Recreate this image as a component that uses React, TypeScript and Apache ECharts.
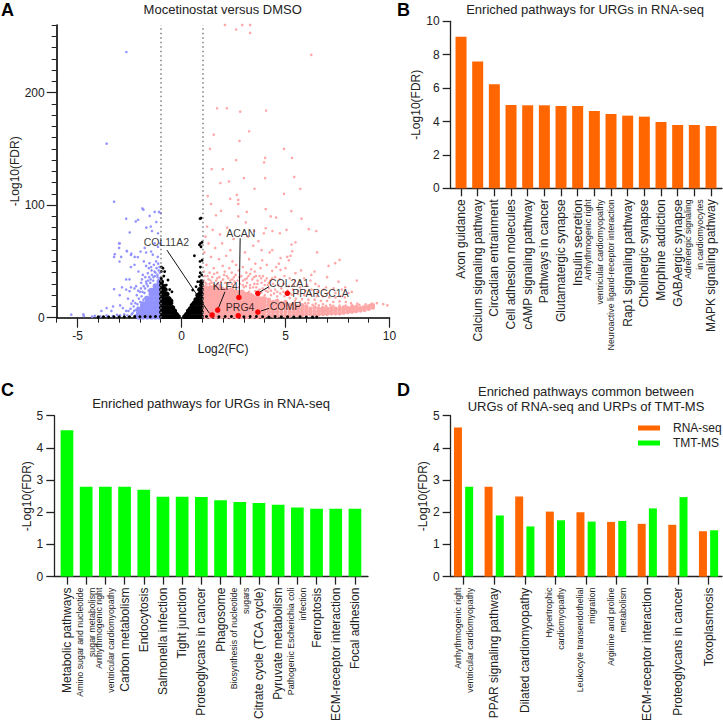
import React, { useEffect, useRef } from "react";
import * as echarts from "echarts";

const FONT = '"Liberation Sans", Arial, sans-serif';
const INK = "#222222";
const ORANGE = "#FF6600";
const GREEN = "#00FF00";
const PINK = "#FFA6A6";
const BLUE = "#9393FF";
const RED = "#FF0000";

// ---------- Panel A: values, [log2FC, -log10FDR]
const pinkSparse: number[][] = [
  [2.09,260],[2.63,256],[2.92,260],[3.3,260],[3.3,253],[6.24,233.5],[1.71,186],[2.18,186],[2.82,183],[4.07,184],
  [1.55,162.6],[3.25,165.6],[2.79,157],[1.37,150],[4.93,150],[2.63,140],[4.02,142],[5.31,142],[3.97,138],[1.45,132],
  [1.99,132],[3,124],[5.42,125],[4.02,124],[2.28,121],[1.87,119.6],[3.51,114.5],[5.71,114.5],[2.66,109],[4.93,110],
  [1.26,108],[2.34,105.6],[2.73,104.7],[2.73,101],[1.42,101],[1.9,95],[3.14,94],[4.05,96.4],[5.28,94.7],[1.66,91],
  [2.73,90],[4.29,90],[4.55,89],[3.09,84.6],[5.77,88],[1.23,81],[6.12,78.6],[6.48,77],[5.05,78],[4.05,79.5],
  [4.37,77],[4.73,75],[3.96,75],[5.48,67],[5.29,65],[6.52,58],[5.32,59],[5.24,55],[4.36,60],[4.24,58],
  [3.85,60],[4.76,53],[4.68,48],[5.08,54],[5.16,51],[7.6,51.4],[7.07,46],[7.39,48.4],[6.4,41],[6.24,38],
  [8.43,33],[7,36],[5.48,39.5],[4.76,42.4],[4.36,41.6],[3.88,51],[3.8,44],[6.44,30],[7.55,32],[7.87,27],
  [8.19,23],[8.03,22],[7.71,25],[7.31,26],[6.83,25],[6.04,29],[5.7,32],[9.39,13],[9.07,11.5],[8.75,10],
  [8.9,9.5],[8.5,8.5],[9.7,12],[9.9,11],
  [1.15,72],[1.5,78],[1.85,74],[2.2,80],[2.5,70],[3.2,72],[3.5,77],[1.3,66],[1.62,62],[1.95,66],
  [2.35,60],[3.45,64],[3.7,68],[3.05,58],[1.1,58],[1.42,54],[1.8,52],[2.15,55],[2.45,50],[3.25,52],
  [3.55,48],[3.35,43],[1.2,47],[1.55,44],[1.98,46],[2.3,44],[2.62,47],[2.95,45],[1.08,41],[1.35,40],
  [1.72,40],[2.08,41],[2.42,40],[2.75,42],[3.12,40],[3.52,41],[4.1,47],[4.55,45],[5,44],[5.75,42],
];
const pinkMid: number[][] = [
  [1.12,37],[1.3,34],[1.48,36],[1.66,33],[1.82,36],[2,34],[2.18,37],[2.35,33],[2.52,36],[2.7,33],
  [2.88,37],[3.06,34],[3.22,37],[3.4,34],[3.58,37],[3.75,37],[3.92,37],[4.1,35],[4.28,33],[4.5,36],
  [4.72,34],[4.95,37],[5.2,35],[5.45,33],[5.9,35],[6.2,33],[1.2,30],[1.45,31],[1.75,30],[2.1,31],
  [2.42,30],[2.8,30],[3.15,31],[3.5,30],[3.85,31],[4.15,29],[4.4,30],[4.65,29],[4.9,30],[5.15,28],
  [5.4,29],[5.7,27],[6.6,28],[6.95,27],[3,27],[3.3,26.5],[3.6,27],[3.9,26],[4.2,26],[4.5,25],
  [4.8,26],[5.1,24],[5.35,25],[5.6,24],[5.95,24],[6.25,25],[6.55,23],[7.05,22],[7.4,22],[7.65,19],
  [7.85,18],[3.25,23],[3.55,23.5],[3.85,22.5],[4.15,23],[4.45,21.5],[4.75,21.5],[5.3,20.5],[5.6,21],[5.9,20],
  [6.2,20.5],[6.5,19],[6.8,19],[7.1,18],[7.4,18],[5.5,17],[5.8,16.5],[6.1,16],[6.4,16],[6.7,15],
  [7,15],[7.3,14],[7.6,14.5],[7.9,14],[8.15,13],[8.45,12.5],[6.1,13],[6.45,12.5],[6.8,12],[7.15,11.5],
  [1.08,33],[1.25,37],[1.4,33],[1.57,39],[1.72,35],[1.9,32],[2.05,38],[2.25,35],[2.44,34],[2.6,38],
  [2.78,36],[2.96,33],[3.14,35],[3.3,39],[3.48,36],[3.66,33],[3.83,35],[4.02,33],[4.2,31],[4.36,35],
  [1.15,31],[1.35,30],[1.55,29],[1.85,29],[2.25,30],[2.55,32],[2.95,29],[3.3,29],[3.65,30],[4,29],
  [2.5,28],[2.75,27],[3.1,28],[3.45,27],[3.75,25],[4.05,24],[4.3,24],[4.6,23],[4.9,23],[5.2,22],
  [3.35,21],[3.7,20.5],[4,20],[4.3,20],[4.6,19],[4.95,19],[5.2,17.5],[5.45,15],[5.7,14],[5.95,13],
  [6.3,11.5],[6.6,11],[6.95,10.5],[7.3,10.5],[7.6,10.8],[7.9,10.8],[8.2,11.2],[8.55,11.5],[8.85,11.8],[9.15,12.5],
];
const pinkCoreColumns: [number, number[]][] = [
  [1.15,[2,6,10,14,18,22,26]],[1.4,[2,6,10,14,18,22,26]],[1.65,[2,6,10,14,18,22,26]],[1.9,[2,6,10,14,18,22,25]],
  [2.15,[2,6,10,14,18,22,24]],[2.4,[2,6,10,14,18,22,24]],[2.65,[2,6,10,14,18,22]],[2.9,[2,6,10,14,18,22]],
  [3.15,[2,6,10,14,18,20]],[3.4,[2,6,10,14,18]],[3.65,[2,6,10,14,17]],[3.9,[2,6,10,14,16]],
];
const pinkWedgeColumns: [number, number[]][] = [
  [4,[2,5,8,11,14,17]],[4.2,[2,5,8,11,14,16]],[4.4,[2,5,8,11,14]],[4.6,[2,5,8,11,15]],[4.8,[2,5,8,11,13]],[5,[2,5,8,11,14]],
  [5.2,[2,5,8,11]],[5.4,[2.5,5,8,12]],[5.6,[2.5,5,8,10]],[5.8,[2.5,5,8,11]],[6,[3,5.5,8,10]],[6.2,[3,5.5,8]],[6.4,[3,5.5,9]],
  [6.6,[3,5.5,8]],[6.8,[3.5,6,8.5]],[7,[3.5,6,8]],[7.2,[4,6,8.5]],[7.4,[4,6.5,8]],[7.6,[4,6.5,8.5]],[7.8,[4.5,7,9]],[8,[5,7,8.5]],
  [8.2,[5.5,7.5,9.5]],[8.4,[6,8,9.5]],[8.6,[6.5,8.5]],[8.8,[7,9]],[9,[8,10]],[9.2,[9,11]],
];
const blueSparse: number[][] = [
  [-2.65,236],[-3.6,154.6],[-3.24,103],[-1.88,97],[-1.83,96],[-2.66,88],[-2.09,87],[-2.2,85.5],[-2.49,75.7],[-1.29,94],
  [-1.08,94],[-1,93],[-1.53,90.5],[-1.21,85],[-1.69,80],[-1.48,81],[-1.42,77],[-1.13,75],[-3,66],[-3,62],
  [-2.62,59],[-2.41,57],[-3.24,54],[-2.25,54],[-1.77,62],[-1.29,66],[-1.13,63],[-1.02,66],[-2.97,66],[-3.21,56.4],
  [-2.9,54],[-2.98,49.9],[-2.63,59.4],[-2.43,55.8],[-1.97,58.8],[-1.7,57.9],[-1.46,58.8],[-1.14,54],[-2.1,53.7],[-1.81,50],
  [-1.54,48.4],[-1.38,56],[-2.43,45],[-2.26,47],[-2.07,41],[-1.46,45],[-1.22,50],[-1.06,45],[-1.86,38],[-2.66,34],
  [-2.5,34],[-1.62,39.5],[-1.3,41],[-3.24,25.3],[-2.86,27],[-2.43,27],[-2.66,25],[-2.5,23.5],[-2.97,20],[-2.26,26],
  [-2.18,28],[-1.94,31],[-2,23],[-1.7,32],[-2.57,17],[-2.33,15],[-2.41,12.5],[-3.29,10],[-2.95,11],[-3.6,8.6],
  [-3.85,6],[-2.82,8.6],[-2.66,6],[-3.37,6],[-5.3,2.7],[-4.7,1.6],[-4.72,3],[-4.17,1.6],[-3.6,2],[-2.95,2],
  [-2.4,3],[-1.12,48],[-1.2,44],[-1.33,47],[-1.1,42],[-1.44,42],[-1.57,44],[-1.7,46],[-1.16,38],[-1.28,37],
  [-1.42,38],[-1.55,36],[-1.74,36],[-1.9,34],[-1.05,35],[-1.36,33],[-1.5,31],[-1.62,28],[-1.82,28],[-1.95,26],
  [-2.08,24],[-2.15,20],[-1.78,22],[-1.92,19],[-2.05,17],[-2.22,13],[-2.12,12],[-2.3,10],[-2.2,7],[-2.45,8],
  [-2.55,6],[-2.35,4],[-2.75,3],[-3.1,2.5],[-3.3,1.5],[-3.9,1.2],[-4.3,1],[-3.5,1],[-2.6,2],[-2.2,2],
  [-1.04,40],[-1.15,36],[-1.25,40],[-1.35,36],[-1.48,34],[-1.6,33],[-1.68,30],[-1.75,26],[-1.88,23],[-1.58,24],
  [-1.72,18],[-1.83,16],[-1.98,14],[-1.94,10],[-2.1,9],[-2.28,6],
];
const blueCoreColumns: [number, number[]][] = [
  [-1.06,[1,5,9,13,17,21,25,29,32]],[-1.25,[1,5,9,13,17,21,25,28]],[-1.45,[1,5,9,13,17,21,24]],[-1.65,[1,5,9,13,17]],
  [-1.85,[1,4,8,12]],[-2.05,[1,4,7]],
];
const blackSparse: number[][] = [
  [0.89,88],[0.94,88.5],[0.86,64.7],[0.91,66],[0.99,67],[0.94,63],[0.62,55],[0.89,50],[0.99,51],[0.91,45],
  [-0.97,45],[-0.89,44],[-0.81,41],[-0.97,41],[-0.73,29],[-0.57,25],[-0.46,23],[0.78,32],[0.94,32],[0.86,36.5],
  [0.7,27.6],[0.54,24.6],[-0.65,33.5],[-0.97,35],[-0.85,37],[0.97,38],[0.9,40],
];
const blackCoreColumns: [number, number[]][] = [
  [-0.96,[1,5,9,13,17,21,25,29,32]],[-0.87,[1,5,9,13,17,21,25,28]],[-0.78,[1,5,9,13,17,21,25]],[-0.69,[1,5,9,13,17,21]],
  [-0.6,[1,5,9,13,17]],[-0.51,[1,5,9,13,15]],[-0.42,[1,5,9]],[-0.33,[1,4,6]],[-0.24,[1,3]],[-0.15,[1]],
  [0.15,[1]],[0.24,[1,3]],[0.33,[1,4,6]],[0.42,[1,5,8]],[0.51,[1,5,9,11]],[0.6,[1,5,9,13]],[0.69,[1,5,9,13,16]],
  [0.78,[1,5,9,13,17,20]],[0.87,[1,5,9,13,17,21,25]],[0.96,[1,5,9,13,17,21,25,29,32]],
];
const blackBaseline: number[][] = [
  [-4,0.7],[-3.75,0.8],[-3.5,0.6],[-3.25,0.9],[-3,0.7],[-2.75,0.9],[-2.5,0.8],[-2.25,1],[-2,0.9],[-1.75,1.1],
  [-1.5,0.9],[-1.25,1],[1.2,1],[1.5,1.2],[1.8,0.9],[2.1,1.1],[2.4,1],[2.7,1.2],[3,0.9],[3.3,1],
  [3.6,1.1],[3.9,0.8],[4.2,0.6],[4.5,1],[4.8,0.7],[5.1,0.9],[5.4,0.6],[5.7,0.8],[6,0.6],[6.3,0.5],[6.5,0.6],
];
const geneNames = ["COL11A2", "KLF4", "ACAN", "COL2A1", "PPARGC1A", "PRG4", "COMP"];
const geneFC = [1.47, 1.74, 2.76, 3.67, 5.09, 2.73, 3.67];
const geneFDR = [2.4, 6.8, 18, 21.7, 21.7, 1.8, 5];
const geneLabelFC = [-0.73, 2.1, 2.85, 5.17, 6.68, 2.82, 5.0];
const geneLabelFDR = [66.8, 28.5, 75, 31, 21.7, 9.2, 10.4];
const leaders: number[][][] = [
  [[-0.7, 60], [1.34, 3.9]],
  [[2.09, 23], [1.77, 8.3]],
  [[2.82, 70.6], [2.78, 20]],
  [[4.21, 27.6], [3.78, 23]],
  [[4.21, 8.3], [3.81, 5.9]],
];
const xMajor = [-5, 0, 5, 10];
const xMinor = [-6,-5,-4,-3,-2,-1,0,1,2,3,4,5,6,7,8,9,10];
const yMajor = [0, 100, 200];
const yMinor = [0,10,20,30,40,50,60,70,80,90,100,110,120,130,140,150,160,170,180,190,200,210,220,230,240,250,260];

// ---------- Panel B
const catB = [
  "Axon guidance","Calcium signaling pathway","Circadian entrainment","Cell adhesion molecules","cAMP signaling pathway",
  "Pathways in cancer","Glutamatergic synapse","Insulin secretion","Arrhythmogenic right\nventricular cardiomyopathy",
  "~Neuroactive ligand-receptor interaction","Rap1 signaling pathway","Cholinergic synapse","Morphine addiction",
  "GABAergic synapse","Adrenergic signaling\nin cardiomyocytes","MAPK signaling pathway",
];
const valB = [9.08,7.6,6.23,4.99,4.97,4.97,4.93,4.93,4.63,4.45,4.35,4.29,3.97,3.79,3.79,3.73];

// ---------- Panel C
const catC = [
  "Metabolic pathways","Amino sugar and nucleotide\nsugar metabolism","Arrhythmogenic right\nventricular cardiomyopathy",
  "Carbon metabolism","Endocytosis","Salmonella infection","Tight junction","Proteoglycans in cancer","Phagosome",
  "Biosynthesis of nucleotide\nsugars","Citrate cycle (TCA cycle)","Pyruvate metabolism",
  "Pathogenic Escherichia coli\ninfection","Ferroptosis","ECM-receptor interaction","Focal adhesion",
];
const valC = [4.55,2.79,2.79,2.79,2.7,2.48,2.48,2.47,2.37,2.32,2.29,2.23,2.15,2.11,2.11,2.11];

// ---------- Panel D
const catD = [
  "Arrhythmogenic right\nventricular cardiomyopathy","PPAR signaling pathway","Dilated cardiomyopathy",
  "Hypertrophic\ncardiomyopathy","Leukocyte transendothelial\nmigration","Arginine and proline\nmetabolism",
  "ECM-receptor interaction","Proteoglycans in cancer","Toxoplasmosis",
];
const rnaD = [4.63,2.79,2.49,2.02,2.0,1.7,1.64,1.61,1.41];
const tmtD = [2.79,1.9,1.56,1.75,1.71,1.73,2.12,2.47,1.44];

const expand = (cols: [number, number[]][]) => cols.flatMap(([x, ys]) => ys.map((y) => [x, y]));
const indices = (a: unknown[]) => a.map((_, i) => i);

function catFormatter(cats: string[]) {
  return (v: number) => {
    const c = cats[Math.round(v)];
    if (c === undefined) return "";
    if (c.startsWith("~")) return `{s|${c.slice(1)}}`;
    if (c.includes("\n")) return c.split("\n").map((l) => `{s|${l}}`).join("\n");
    return `{b|${c}}`;
  };
}
const lineStyle = { color: INK, width: 1.3 };

function barX(grid: number, cats: string[], min: number, max: number) {
  const ticks = indices(cats);
  return {
    type: "value", gridIndex: grid, min, max, splitLine: { show: false },
    axisLine: { show: true, onZero: false, lineStyle },
    axisTick: { show: true, length: 8, lineStyle, customValues: ticks },
    axisLabel: {
      show: true, rotate: 90, margin: 11, customValues: ticks, formatter: catFormatter(cats),
      hideOverlap: false, showMinLabel: true, showMaxLabel: true, color: INK, fontFamily: FONT,
      rich: {
        b: { fontSize: 12, fontFamily: FONT, color: INK },
        s: { fontSize: 8.8, lineHeight: 12, fontFamily: FONT, color: INK },
      },
    },
  };
}
function barY(grid: number, max: number, interval: number, nameGap: number) {
  return {
    type: "value", gridIndex: grid, min: 0, max, interval, splitLine: { show: false },
    name: "-Log10(FDR)", nameLocation: "middle", nameGap,
    nameTextStyle: { fontSize: 12, color: INK, fontFamily: FONT },
    axisLine: { show: true, onZero: false, lineStyle },
    axisTick: { show: true, length: 8, lineStyle },
    axisLabel: { fontSize: 12, color: INK, margin: 11, fontFamily: FONT },
  };
}
function titleItem(text: string, cx: number, top: number) {
  return { text, left: cx, top, padding: 0, textAlign: "center", textStyle: { fontSize: 13, fontWeight: "normal", color: INK, fontFamily: FONT, lineHeight: 15 } };
}
function panelLetter(text: string, left: number, top: number) {
  return { text, left, top, padding: 0, textStyle: { fontSize: 18, fontWeight: "bold", color: "#000", fontFamily: FONT } };
}

export default function App() {
  const ref = useRef<HTMLDivElement>(null);
  useEffect(() => {
    const chart = echarts.init(ref.current!, undefined, { renderer: "svg" });
    const scatter = (data: number[][], color: string, size: number, extra: object = {}) => ({
      type: "scatter", xAxisIndex: 0, yAxisIndex: 0, data, symbolSize: size, silent: true,
      itemStyle: { color, opacity: 1 }, ...extra,
    });
    chart.setOption({
      animation: false,
      textStyle: { fontFamily: FONT },
      title: [
        panelLetter("A", 1, 1), panelLetter("B", 397, 1), panelLetter("C", 1, 381), panelLetter("D", 397, 381),
        titleItem("Mocetinostat versus DMSO", 222.7, 2),
        titleItem("Enriched pathways for URGs in RNA-seq", 585, 2),
        titleItem("Enriched pathways for URGs in RNA-seq", 211, 396),
        titleItem("Enriched pathways common between\nURGs of RNA-seq and URPs of TMT-MS", 586, 384),
      ],
      legend: {
        data: ["RNA-seq", "TMT-MS"], orient: "vertical", left: 638, top: 422, padding: 0, itemWidth: 22, itemHeight: 5,
        itemGap: 3, icon: "rect", textStyle: { fontSize: 12, color: INK, fontFamily: FONT, padding: [0, 0, 0, 8] },
      },
      grid: [
        { left: 56.7, top: 25, width: 332.8, height: 292.7 },
        { left: 450.7, top: 21.3, width: 271.3, height: 167 },
        { left: 54.3, top: 415.7, width: 313.7, height: 166.6 },
        { left: 450.7, top: 415.7, width: 271.3, height: 167 },
      ],
      xAxis: [
        {
          type: "value", gridIndex: 0, min: -6, max: 10, splitLine: { show: false },
          name: "Log2(FC)", nameLocation: "middle", nameGap: 20,
          nameTextStyle: { fontSize: 12, color: INK, fontFamily: FONT },
          axisLine: { show: true, onZero: false, lineStyle: { color: "#000", width: 1.6 } },
          axisTick: { show: true, length: 10, lineStyle: { color: INK, width: 1.2 }, customValues: xMajor },
          axisLabel: { fontSize: 12, color: INK, margin: 12, customValues: xMajor, fontFamily: FONT },
        },
        barX(1, catB, -0.62, 15.66),
        barX(2, catC, -0.66, 15.68),
        barX(3, catD, -0.42, 8.44),
        {
          type: "value", gridIndex: 0, min: -6, max: 10, position: "bottom", splitLine: { show: false },
          axisLine: { show: false, onZero: false }, axisLabel: { show: false },
          axisTick: { show: true, length: 5, lineStyle: { color: INK, width: 1 }, customValues: xMinor },
        },
      ],
      yAxis: [
        {
          type: "value", gridIndex: 0, min: 0, max: 260, splitLine: { show: false },
          name: "-Log10(FDR)", nameLocation: "middle", nameGap: 33,
          nameTextStyle: { fontSize: 12, color: INK, fontFamily: FONT },
          axisLine: { show: true, onZero: false, lineStyle: { color: "#000", width: 1.6 } },
          axisTick: { show: true, length: 10, lineStyle: { color: INK, width: 1.2 }, customValues: yMajor },
          axisLabel: { fontSize: 12, color: INK, margin: 12, customValues: yMajor, fontFamily: FONT },
        },
        barY(1, 10, 2, 21),
        barY(2, 5, 1, 18.5),
        barY(3, 5, 1, 21),
        {
          type: "value", gridIndex: 0, min: 0, max: 260, position: "left", splitLine: { show: false },
          axisLine: { show: false, onZero: false }, axisLabel: { show: false },
          axisTick: { show: true, length: 5, lineStyle: { color: INK, width: 1 }, customValues: yMinor },
        },
      ],
      series: [
        scatter(expand(pinkCoreColumns), PINK, 7),
        scatter(expand(pinkWedgeColumns), PINK, 4.5),
        scatter(pinkMid, PINK, 2.6),
        scatter(pinkSparse, PINK, 2.6),
        scatter(expand(blueCoreColumns), BLUE, 6),
        scatter(blueSparse, BLUE, 2.6),
        scatter(expand(blackCoreColumns), "#000", 5),
        scatter(blackSparse, "#000", 2.8),
        scatter(blackBaseline, "#000", 3, {
          markLine: {
            silent: true, symbol: "none", label: { show: false }, animation: false,
            lineStyle: { color: "#7f7f7f", type: [1.5, 3], width: 1.5 },
            data: [{ xAxis: -1 }, { xAxis: 1 }],
          },
        }),
        scatter(geneFC.map((x, i) => [x, geneFDR[i]]), RED, 5.5, {
          z: 5,
          markLine: {
            silent: true, symbol: "none", label: { show: false }, animation: false,
            lineStyle: { color: "#111", type: "solid", width: 1 },
            data: leaders.map(([a, b]) => [{ coord: a }, { coord: b }]),
          },
        }),
        {
          type: "scatter", xAxisIndex: 0, yAxisIndex: 0, symbolSize: 0, silent: true, z: 6,
          data: geneNames.map((name, i) => ({ name, value: [geneLabelFC[i], geneLabelFDR[i]] })),
          label: { show: true, position: "inside", formatter: "{b}", fontSize: 10.5, color: "#000", fontFamily: FONT },
        },
        { type: "bar", xAxisIndex: 1, yAxisIndex: 1, barWidth: 11, itemStyle: { color: ORANGE }, data: valB.map((v, i) => [i, v]) },
        { type: "bar", xAxisIndex: 2, yAxisIndex: 2, barWidth: 12.7, itemStyle: { color: GREEN }, data: valC.map((v, i) => [i, v]) },
        { type: "bar", name: "RNA-seq", xAxisIndex: 3, yAxisIndex: 3, barWidth: 8, barGap: "40%", itemStyle: { color: ORANGE }, data: rnaD.map((v, i) => [i, v]) },
        { type: "bar", name: "TMT-MS", xAxisIndex: 3, yAxisIndex: 3, barWidth: 8, barGap: "40%", itemStyle: { color: GREEN }, data: tmtD.map((v, i) => [i, v]) },
      ],
    });
    return () => chart.dispose();
  }, []);
  return <div ref={ref} style={{ position: "absolute", left: 0, top: 0, width: 723, height: 724 }} />;
}
